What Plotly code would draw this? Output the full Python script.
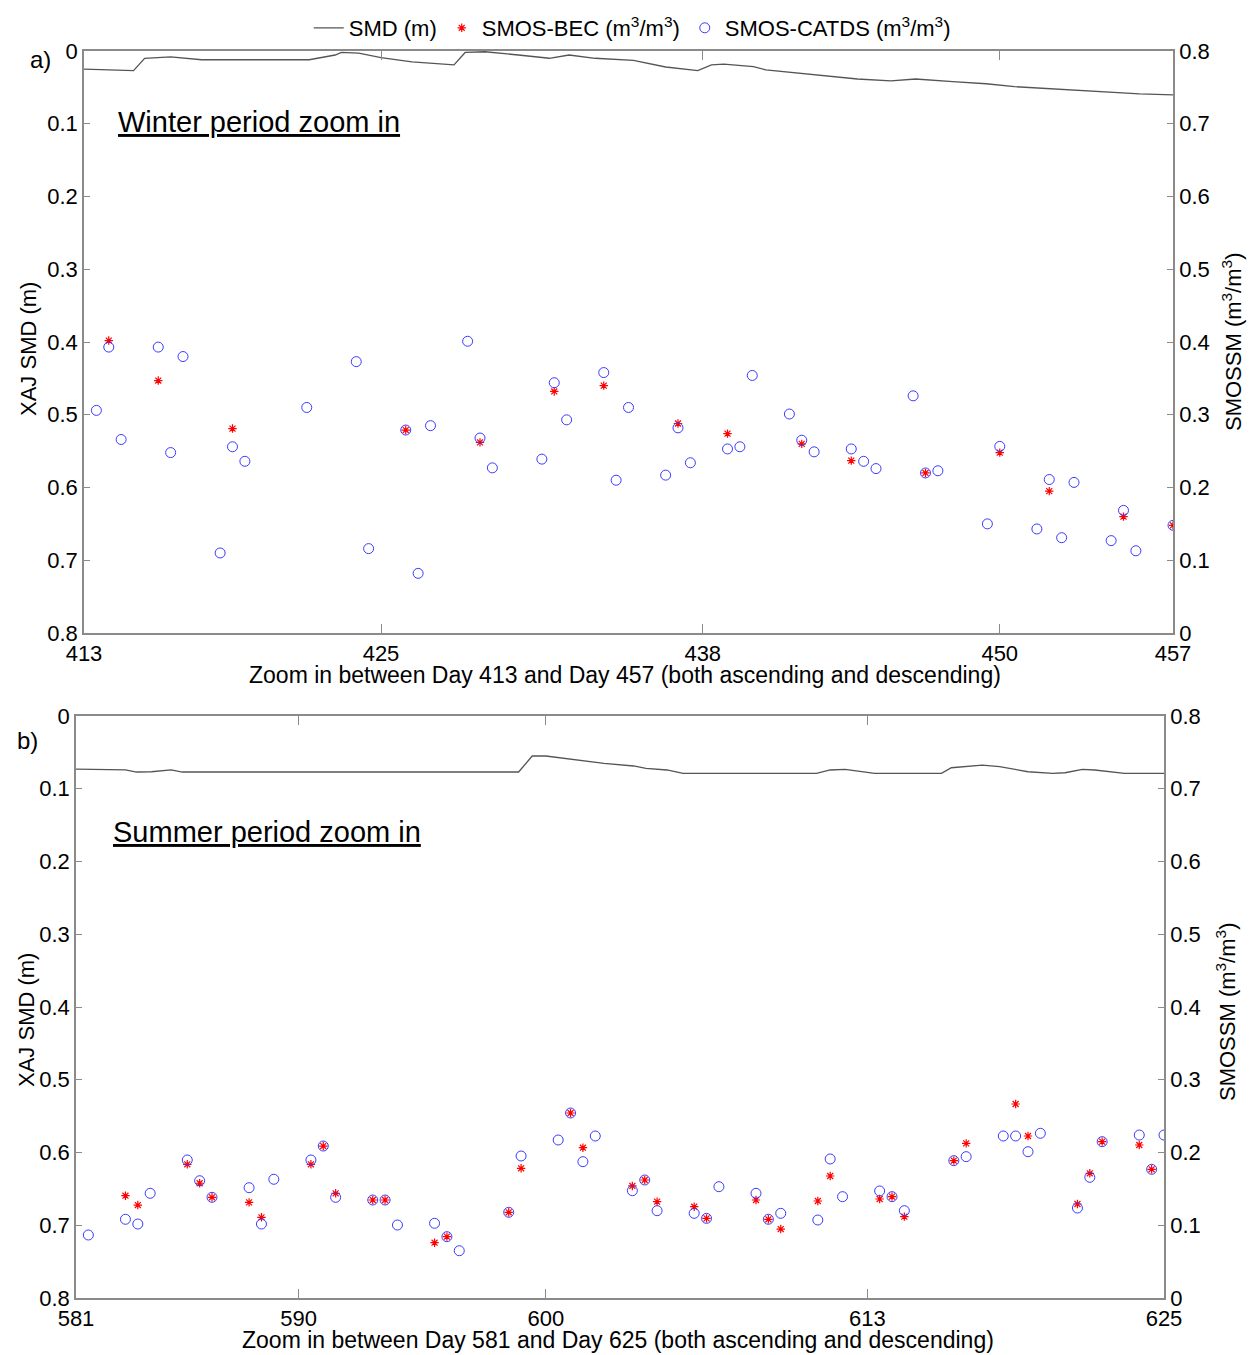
import plotly.graph_objects as go

# ---------------- Panel a (winter) ----------------
smd_a_days = [413.0, 415.0, 415.45, 416.5, 417.75, 422.1, 423.15, 423.4, 424.1, 425.0, 426.25, 427.95,
              428.4, 429.2, 430.55, 431.8, 432.6, 433.65, 435.2, 436.5, 437.8, 438.35, 438.85, 440.05,
              440.55, 442.75, 444.25, 445.6, 446.6, 448.1, 449.45, 450.6, 453.0, 454.3, 455.65, 457.0]
smd_a = [0.025, 0.027, 0.010, 0.008, 0.012, 0.012, 0.0055, 0.002, 0.003, 0.009, 0.015, 0.019,
         0.002, 0.001, 0.0055, 0.010, 0.0055, 0.010, 0.013, 0.022, 0.027, 0.019, 0.018, 0.0215,
         0.026, 0.033, 0.0385, 0.041, 0.0385, 0.042, 0.045, 0.049, 0.0536, 0.057, 0.059, 0.0604]

bec_a_days = [414.0, 416.0, 419.0, 426.0, 429.0, 432.0, 434.0, 437.0, 439.0, 442.0, 444.0, 447.0,
              450.0, 452.0, 455.0, 457.0]
bec_a = [0.402, 0.347, 0.281, 0.279, 0.262, 0.332, 0.340, 0.288, 0.274, 0.260, 0.237, 0.220,
         0.248, 0.195, 0.160, 0.148]

catds_a_days = [413.5, 414.0, 414.5, 416.0, 416.5, 417.0, 418.5, 419.0, 419.5, 422.0, 424.0, 424.5,
                426.0, 426.5, 427.0, 428.5, 429.0, 429.5, 431.5, 432.0, 432.5, 434.0, 434.5, 435.0,
                436.5, 437.0, 437.5, 439.0, 439.5, 440.0, 441.5, 442.0, 442.5, 444.0, 444.5, 445.0,
                446.5, 447.0, 447.5, 449.5, 450.0, 451.5, 452.0, 452.5, 453.0, 454.5, 455.0, 455.5, 457.0]
catds_a = [0.306, 0.393, 0.266, 0.393, 0.248, 0.380, 0.110, 0.256, 0.236, 0.310, 0.373, 0.116,
           0.279, 0.082, 0.285, 0.401, 0.268, 0.227, 0.239, 0.344, 0.293, 0.358, 0.210, 0.310,
           0.217, 0.282, 0.234, 0.253, 0.256, 0.354, 0.301, 0.265, 0.249, 0.253, 0.236, 0.226,
           0.326, 0.220, 0.223, 0.150, 0.2565, 0.143, 0.211, 0.131, 0.207, 0.127, 0.1685, 0.113, 0.148]

ticks_a = [413, 425, 438, 450, 457]

# ---------------- Panel b (summer) ----------------
smd_b_days = [581.0, 583.0, 583.45, 584.05, 584.85, 585.3, 598.9, 599.45, 600.0, 601.25, 602.35, 603.55,
              604.05, 604.9, 605.55, 610.95, 611.5, 612.1, 613.3, 616.0, 616.4, 617.65, 618.35, 619.5,
              620.5, 621.0, 621.7, 622.2, 623.4, 625.0]
smd_b = [0.073, 0.074, 0.077, 0.0766, 0.074, 0.077, 0.077, 0.055, 0.055, 0.0605, 0.065, 0.0687,
         0.0719, 0.0742, 0.0788, 0.0788, 0.0742, 0.0733, 0.0788, 0.0788, 0.0711, 0.0674, 0.0697, 0.0766,
         0.0788, 0.078, 0.0733, 0.0742, 0.0788, 0.0788]

bec_b_days = [583.0, 583.5, 585.5, 586.0, 586.5, 588.0, 588.5, 590.5, 591.0, 591.5, 593.0, 593.5,
              595.5, 596.0, 598.5, 599.0, 601.0, 601.5, 603.5, 604.0, 604.5, 606.0, 606.5, 608.5,
              609.0, 609.5, 611.0, 611.5, 613.5, 614.0, 614.5, 616.5, 617.0, 619.0, 619.5, 621.5,
              622.0, 622.5, 624.0, 624.5]
bec_b = [0.1406, 0.1278, 0.1838, 0.1577, 0.1384, 0.1315, 0.1109, 0.1838, 0.2089, 0.1439, 0.1347, 0.1347,
         0.0760, 0.0843, 0.1178, 0.1783, 0.2543, 0.2066, 0.1540, 0.1622, 0.1324, 0.1255, 0.1095, 0.1347,
         0.1082, 0.0948, 0.1333, 0.1677, 0.1361, 0.1393, 0.1118, 0.1888, 0.2126, 0.2667, 0.2227, 0.1292,
         0.1714, 0.2149, 0.2103, 0.1769]

catds_b_days = [581.5, 583.0, 583.5, 584.0, 585.5, 586.0, 586.5, 588.0, 588.5, 589.0, 590.5, 591.0,
                591.5, 593.0, 593.5, 594.0, 595.5, 596.0, 596.5, 598.5, 599.0, 600.5, 601.0, 601.5,
                602.0, 603.5, 604.0, 604.5, 606.0, 606.5, 607.0, 608.5, 609.0, 609.5, 611.0, 611.5,
                612.0, 613.5, 614.0, 614.5, 616.5, 617.0, 618.5, 619.0, 619.5, 620.0, 621.5, 622.0,
                622.5, 624.0, 624.5, 625.0]
catds_b = [0.0866, 0.1082, 0.1017, 0.1439, 0.1897, 0.1612, 0.1384, 0.1516, 0.1017, 0.1632, 0.1897, 0.2089,
           0.1384, 0.1347, 0.1347, 0.1003, 0.1027, 0.0843, 0.0650, 0.1178, 0.1952, 0.2172, 0.2543, 0.1874,
           0.2227, 0.1475, 0.1622, 0.1200, 0.1164, 0.1095, 0.1530, 0.1439, 0.1082, 0.1164, 0.1072, 0.1911,
           0.1393, 0.1471, 0.1393, 0.1200, 0.1888, 0.1943, 0.2227, 0.2227, 0.2011, 0.2264, 0.1237, 0.1659,
           0.2149, 0.2240, 0.1769, 0.2240]

ticks_b = [581, 590, 600, 613, 625]

# ---------------- Layout geometry ----------------
W, H = 1252, 1355
FONT = "Liberation Sans, Arial, sans-serif"
AXC = "#8a8a8a"


def px(x):
    return x / W


def py(y):
    return 1 - y / H


fig = go.Figure()

line_style = dict(color="#555555", width=1.3)
bec_marker = dict(symbol="asterisk-open", size=7, color="red", line=dict(color="red", width=1.2))
catds_marker = dict(symbol="circle-open", size=10, color="#3a3aff", line=dict(color="#3a3aff", width=1))

fig.add_trace(go.Scatter(x=smd_a_days, y=smd_a, mode="lines", line=line_style, name="SMD (m)",
                         xaxis="x", yaxis="y", legendrank=1))
fig.add_trace(go.Scatter(x=bec_a_days, y=bec_a, mode="markers", marker=bec_marker,
                         name="SMOS-BEC (m<sup>3</sup>/m<sup>3</sup>)", xaxis="x", yaxis="y3", legendrank=2))
fig.add_trace(go.Scatter(x=catds_a_days, y=catds_a, mode="markers", marker=catds_marker,
                         name="SMOS-CATDS (m<sup>3</sup>/m<sup>3</sup>)", xaxis="x", yaxis="y3", legendrank=3))

fig.add_trace(go.Scatter(x=smd_b_days, y=smd_b, mode="lines", line=line_style, showlegend=False,
                         xaxis="x2", yaxis="y2"))
fig.add_trace(go.Scatter(x=bec_b_days, y=bec_b, mode="markers", marker=bec_marker, showlegend=False,
                         xaxis="x2", yaxis="y4"))
fig.add_trace(go.Scatter(x=catds_b_days, y=catds_b, mode="markers", marker=catds_marker, showlegend=False,
                         xaxis="x2", yaxis="y4"))

tickfont = dict(family=FONT, size=22, color="black")

common_x = dict(showgrid=False, zeroline=False, showline=True, linecolor=AXC, linewidth=1.5,
                mirror="ticks", ticks="inside", ticklen=9, tickcolor=AXC, tickwidth=1,
                tickfont=tickfont, tickmode="array", automargin=False)
common_y = dict(showgrid=False, zeroline=False, showline=True, linecolor=AXC, linewidth=1.5,
                ticks="inside", ticklen=6, tickcolor=AXC, tickwidth=1, tickfont=tickfont,
                dtick=0.1, tick0=0, automargin=False)

pa = (51, 633, 84, 1173)
pb = (716, 1298, 76, 1164)

fig.update_layout(
    width=W, height=H,
    margin=dict(l=0, r=0, t=0, b=0, autoexpand=False),
    paper_bgcolor="white", plot_bgcolor="white",
    font=dict(family=FONT, size=22, color="black"),
    xaxis=dict(domain=[px(pa[2]), px(pa[3])], range=[413, 457], tickvals=ticks_a,
               anchor="y", **common_x),
    yaxis=dict(domain=[py(pa[1]), py(pa[0])], range=[0.8, 0], anchor="x", side="left", **common_y),
    yaxis3=dict(range=[0, 0.8], overlaying="y", anchor="x", side="right", **common_y),
    xaxis2=dict(domain=[px(pb[2]), px(pb[3])], range=[581, 625], tickvals=ticks_b,
                anchor="y2", **common_x),
    yaxis2=dict(domain=[py(pb[1]), py(pb[0])], range=[0.8, 0], anchor="x2", side="left", **common_y),
    yaxis4=dict(range=[0, 0.8], overlaying="y2", anchor="x2", side="right", **common_y),
    legend=dict(orientation="h", x=0.505, xanchor="center", y=py(28), yanchor="middle",
                font=dict(family=FONT, size=22), bgcolor="rgba(0,0,0,0)", itemwidth=30,
                tracegroupgap=0),
    showlegend=True,
)

ann = []


def add_text(x, y, text, size=22, angle=0, xanchor="center", under=False):
    f = dict(family=FONT, size=size, color="black")
    if under:
        f["lineposition"] = "under"
    ann.append(dict(x=px(x), y=py(y), xref="paper", yref="paper", text=text, showarrow=False,
                    textangle=angle, xanchor=xanchor, yanchor="middle", font=f))


add_text(40, 60, "a)", size=24)
add_text(27, 740, "b)", size=24)
add_text(116, 122, "Winter period zoom in", size=29, xanchor="left", under=True)
add_text(111, 832, "Summer period zoom in", size=29, xanchor="left", under=True)
add_text(625, 675, "Zoom in between Day 413 and Day 457 (both ascending and descending)", size=23)
add_text(618, 1340, "Zoom in between Day 581 and Day 625 (both ascending and descending)", size=23)
add_text(28, 349, "XAJ SMD (m)", size=22, angle=-90)
add_text(26, 1020, "XAJ SMD (m)", size=22, angle=-90)
add_text(1232, 342, "SMOSSM (m<sup>3</sup>/m<sup>3</sup>)", size=22, angle=-90)
add_text(1226, 1012, "SMOSSM (m<sup>3</sup>/m<sup>3</sup>)", size=22, angle=-90)

fig.update_layout(annotations=ann)

fig.write_html("out.html", config={"displayModeBar": False},
               post_script="document.body.style.margin='0px';document.body.style.padding='0px';"
                           "document.documentElement.style.overflow='hidden';")
